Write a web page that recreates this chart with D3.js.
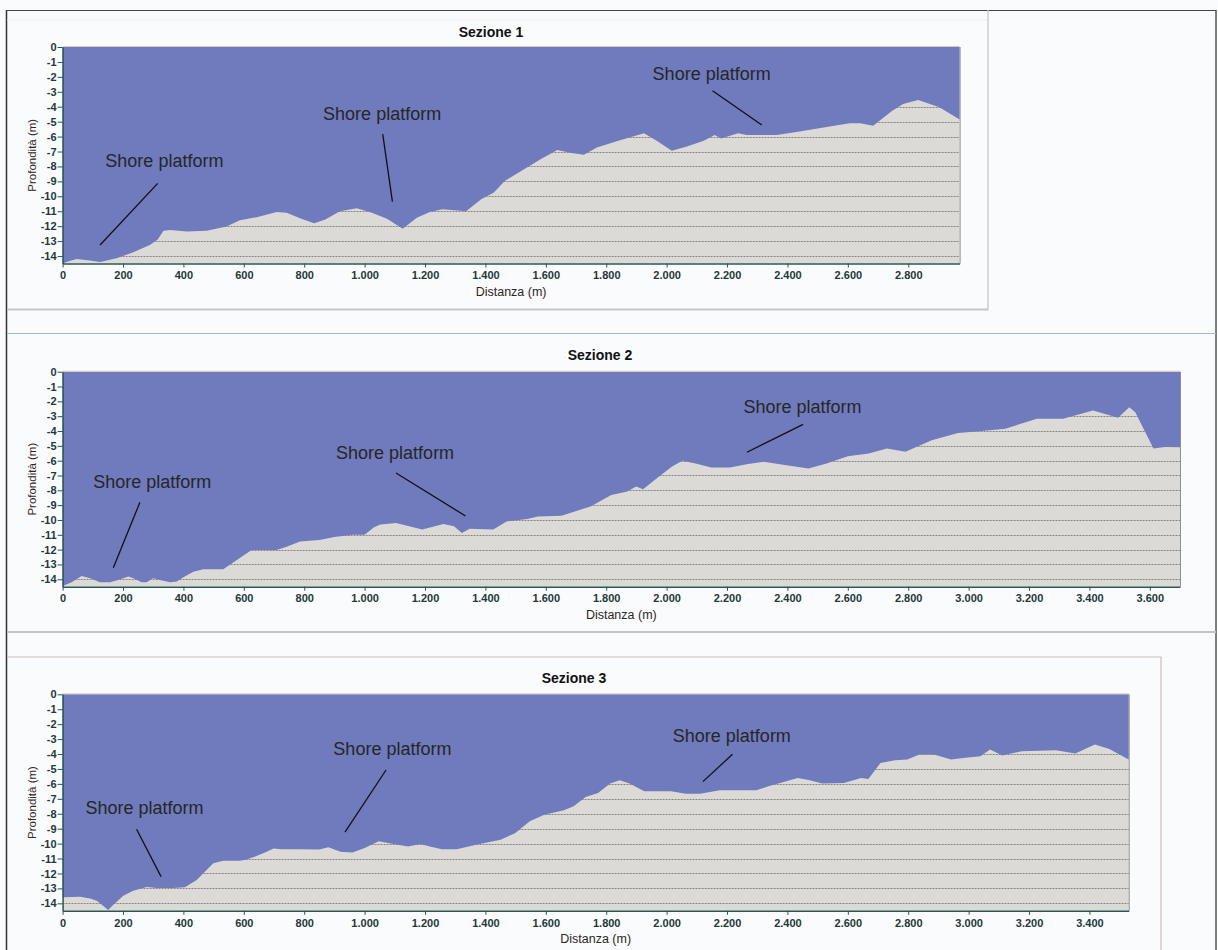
<!DOCTYPE html>
<html lang="it">
<head>
<meta charset="UTF-8"/>
<title>Sezioni 1-3 - Profondità</title>
<script src="https://d3js.org/d3.v7.min.js"></script>
<style>
  body { margin: 0; background: #fafbfd; }
  svg { display: block; font-family: "Liberation Sans", Arial, sans-serif; }
  .axis text { font-weight: bold; font-size: 11px; fill: #1f3838; }
  .axis path, .axis line { stroke: #2c5656; }
  .grid line { stroke: #8a847e; stroke-dasharray: 2,1; }
</style>
</head>
<body>
<div id="chart"></div>
<script>

// Sezione 1 : distanza (m) e profondità (m)
var dist1 = [0, 20, 47, 90, 124, 179, 234, 289, 315, 334, 356, 411, 477, 543, 587, 643, 709, 742, 790, 833,
  870, 918, 974, 1024, 1074, 1126, 1173, 1216, 1258, 1336, 1386, 1428, 1464, 1528, 1584, 1638, 1684, 1726, 1769, 1840,
  1925, 1967, 2017, 2067, 2123, 2159, 2180, 2237, 2265, 2364, 2435, 2520, 2606, 2641, 2684, 2747, 2783, 2833, 2903, 2970];
var depth1 = [-14.5, -14.35, -14.2, -14.3, -14.4, -14.15, -13.75, -13.26, -12.9, -12.3, -12.25, -12.35, -12.3, -12.03, -11.6, -11.4, -11.05, -11.1, -11.5, -11.8,
  -11.55, -11.0, -10.8, -11.1, -11.5, -12.17, -11.43, -11.05, -10.87, -11.0, -10.2, -9.75, -8.97, -8.18, -7.5, -6.89, -7.1, -7.22, -6.73, -6.28,
  -5.77, -6.28, -6.95, -6.66, -6.28, -5.9, -6.13, -5.77, -5.9, -5.9, -5.68, -5.39, -5.1, -5.1, -5.28, -4.27, -3.82, -3.55, -4.04, -4.85];

// Sezione 2
var dist2 = [0, 30, 63, 91, 124, 157, 184, 218, 234, 262, 278, 300, 322, 356, 378, 400, 433, 466, 532, 577,
  626, 709, 742, 786, 850, 900, 960, 1000, 1030, 1052, 1104, 1191, 1261, 1296, 1322, 1348, 1426, 1470, 1539, 1574,
  1652, 1748, 1817, 1870, 1899, 1922, 1974, 2017, 2052, 2096, 2148, 2209, 2270, 2322, 2391, 2470, 2530, 2600, 2669, 2730,
  2791, 2878, 2965, 3035, 3122, 3226, 3313, 3412, 3495, 3532, 3552, 3612, 3650, 3700];
var depth2 = [-14.45, -14.2, -13.77, -13.93, -14.2, -14.2, -14.05, -13.82, -13.93, -14.2, -14.2, -13.93, -14.05, -14.2, -14.15, -13.87, -13.49, -13.32, -13.32, -12.7,
  -12.03, -12.03, -11.8, -11.46, -11.35, -11.15, -11.0, -11.0, -10.5, -10.3, -10.2, -10.65, -10.27, -10.43, -10.88, -10.6, -10.65, -10.1, -9.94, -9.76,
  -9.71, -9.09, -8.31, -8.08, -7.75, -7.93, -7.08, -6.41, -6.0, -6.19, -6.46, -6.46, -6.23, -6.08, -6.3, -6.52, -6.19, -5.7, -5.52, -5.18,
  -5.4, -4.63, -4.13, -4.02, -3.84, -3.17, -3.17, -2.62, -3.1, -2.39, -2.73, -5.18, -5.07, -5.1];

// Sezione 3
var dist3 = [0, 58, 91, 113, 135, 151, 168, 201, 234, 278, 312, 366, 405, 444, 499, 532, 587, 609, 631, 676,
  698, 725, 786, 850, 880, 920, 960, 1000, 1047, 1095, 1144, 1184, 1216, 1256, 1305, 1369, 1450, 1498, 1547, 1595,
  1660, 1692, 1732, 1773, 1813, 1845, 1877, 1926, 2015, 2063, 2111, 2176, 2240, 2297, 2337, 2385, 2434, 2474, 2515, 2587,
  2644, 2668, 2708, 2756, 2797, 2837, 2885, 2942, 2982, 3039, 3071, 3111, 3176, 3289, 3353, 3418, 3466, 3530];
var depth3 = [-13.6, -13.56, -13.67, -13.82, -14.18, -14.45, -14.1, -13.5, -13.15, -12.9, -12.97, -12.97, -12.93, -12.44, -11.32, -11.15, -11.15, -11.06, -10.92, -10.54,
  -10.32, -10.38, -10.38, -10.4, -10.25, -10.55, -10.6, -10.3, -9.85, -10.03, -10.19, -10.03, -10.19, -10.37, -10.37, -10.08, -9.74, -9.3, -8.51, -8.06,
  -7.77, -7.5, -6.88, -6.61, -5.98, -5.76, -5.98, -6.5, -6.5, -6.66, -6.66, -6.43, -6.43, -6.43, -6.16, -5.89, -5.6, -5.76, -5.98, -5.94,
  -5.6, -5.67, -4.6, -4.42, -4.37, -4.04, -4.04, -4.37, -4.26, -4.15, -3.7, -4.1, -3.81, -3.75, -3.97, -3.37, -3.66, -4.37];

// tick values
var depthTicks = [0, -1, -2, -3, -4, -5, -6, -7, -8, -9, -10, -11, -12, -13, -14];
var distTicks = [0, 200, 400, 600, 800, 1000, 1200, 1400, 1600, 1800, 2000, 2200, 2400, 2600, 2800, 3000, 3200, 3400, 3600];

var titles = ["Sezione 1", "Sezione 2", "Sezione 3"];
var noteText = "Shore platform";

// annotations: [text dist, text depth, line start dist, depth, line end dist, depth]
var notes1 = [[337, -8.04, 315, -9.13, 124, -13.26],
              [1058, -4.89, 1060, -5.83, 1092, -10.36],
              [2149, -2.18, 2152, -2.93, 2315, -5.22]];
var notes2 = [[297, -7.84, 256, -8.81, 168, -13.22],
              [1101, -5.89, 1104, -6.83, 1334, -9.73],
              [2450, -2.81, 2452, -3.55, 2266, -5.43]];
var notes3 = [[271, -7.99, 245, -9.04, 326, -12.21],
              [1092, -4.06, 1071, -5.07, 935, -9.23],
              [2216, -3.2, 2218, -4.02, 2120, -5.85]];

var w = 1218, h = 950;

var svg = d3.select("#chart")
  .append("svg")
  .attr("width", w)
  .attr("height", h);

svg.append("rect").attr("width", w).attr("height", h).attr("fill", "#fafbfd");

// frames around the three panels
function frameLine(x1, y1, x2, y2, color, sw) {
  svg.append("line")
    .attr("x1", x1).attr("y1", y1).attr("x2", x2).attr("y2", y2)
    .attr("stroke", color).attr("stroke-width", sw);
}
frameLine(6.5, 10, 6.5, h, "#333", 1.5);
frameLine(6, 10.5, 1216, 10.5, "#444", 1.2);
frameLine(1216, 10, 1216, h, "#555", 1.5);
frameLine(7, 20, 988, 20, "#eeeeee", 1);
frameLine(988, 10, 988, 310, "#c4c4c4", 1.2);
frameLine(7, 309.5, 988, 309.5, "#c6c6c6", 2);
frameLine(7, 333.5, 1216, 333.5, "#9cb9c6", 1.2);
frameLine(7, 632, 1216, 632, "#c4c4c4", 2);
frameLine(7, 657, 1161, 657, "#c9c0b9", 1.2);
frameLine(1161, 657, 1161, h, "#c9bcb4", 1.2);

var panels = [
  { dist: dist1, depth: depth1, notes: notes1, title: titles[0], maxDist: 2970,
    left: 62.6, right: 959.6, top: 47, bottom: 263.5, titleX: 491, titleY: 37, xAxisColor: "#2c5656" },
  { dist: dist2, depth: depth2, notes: notes2, title: titles[1], maxDist: 3700,
    left: 62.6, right: 1180, top: 371.7, bottom: 586.7, titleX: 600, titleY: 360, xAxisColor: "#7a3528" },
  { dist: dist3, depth: depth3, notes: notes3, title: titles[2], maxDist: 3530,
    left: 62.6, right: 1128.7, top: 694.3, bottom: 910.8, titleX: 574, titleY: 683, xAxisColor: "#2c5656" }
];

var fmt = d3.formatLocale({ decimal: ",", thousands: ".", grouping: [3], currency: ["", ""] }).format(",d");

panels.forEach(function(p) {
  var xScale = d3.scaleLinear().domain([0, p.maxDist]).range([p.left, p.right]);
  var yScale = d3.scaleLinear().domain([0, -14.5]).range([p.top, p.bottom]);

  var g = svg.append("g");

  // ground background
  g.append("rect")
    .attr("x", p.left).attr("y", p.top)
    .attr("width", p.right - p.left).attr("height", p.bottom - p.top)
    .attr("fill", "#dcdad6");

  // dotted gridlines
  g.append("g").attr("class", "grid")
    .selectAll("line")
    .data(depthTicks.slice(1))
    .enter()
    .append("line")
    .attr("x1", p.left).attr("x2", p.right)
    .attr("y1", function(d) { return Math.round(yScale(d)) + 0.5; })
    .attr("y2", function(d) { return Math.round(yScale(d)) + 0.5; });

  // water area above the profile
  var pts = p.dist.map(function(d, i) { return [d, p.depth[i]]; });
  var area = d3.area()
    .x(function(d) { return xScale(d[0]); })
    .y0(yScale(0))
    .y1(function(d) { return yScale(d[1]); });
  g.append("path")
    .datum(pts)
    .attr("d", area)
    .attr("fill", "#6f7bbd");

  // plot border top / right
  g.append("line").attr("x1", p.left).attr("x2", p.right).attr("y1", p.top - 0.5).attr("y2", p.top - 0.5)
    .attr("stroke", "#d9c9bd").attr("stroke-width", 1);
  g.append("line").attr("x1", p.right + 0.5).attr("x2", p.right + 0.5).attr("y1", p.top).attr("y2", p.bottom)
    .attr("stroke", "#8a8f8f").attr("stroke-width", 1);

  // axes
  var yAxis = d3.axisLeft(yScale)
    .tickValues(depthTicks)
    .tickSize(5)
    .tickPadding(1)
    .tickSizeOuter(0)
    .tickFormat(function(d) { return d === 0 ? "0" : "-" + Math.abs(d); });
  g.append("g").attr("class", "axis")
    .attr("transform", "translate(" + p.left + ",0)")
    .call(yAxis)
    .call(function(s) { s.select(".domain").attr("stroke-width", 1.5); });

  var xAxis = d3.axisBottom(xScale)
    .tickValues(distTicks.filter(function(d) { return d <= p.maxDist; }))
    .tickSize(4)
    .tickPadding(4)
    .tickSizeOuter(0)
    .tickFormat(fmt);
  g.append("g").attr("class", "axis")
    .attr("transform", "translate(0," + p.bottom + ")")
    .call(xAxis)
    .call(function(s) { s.select(".domain").attr("stroke", p.xAxisColor).attr("stroke-width", 1.5); });

  // titles
  g.append("text")
    .attr("x", p.titleX).attr("y", p.titleY)
    .attr("text-anchor", "middle")
    .attr("font-size", "14px").attr("font-weight", "bold")
    .attr("fill", "#111")
    .text(p.title);

  g.append("text")
    .attr("x", (p.left + p.right) / 2).attr("y", p.bottom + 32)
    .attr("text-anchor", "middle")
    .attr("font-size", "12.5px")
    .attr("fill", "#2e2622")
    .text("Distanza (m)");

  g.append("text")
    .attr("transform", "translate(36," + (p.top + p.bottom) / 2 + ") rotate(-90)")
    .attr("text-anchor", "middle")
    .attr("font-size", "11.5px")
    .attr("fill", "#2e2622")
    .text("Profondità (m)");

  // annotations
  p.notes.forEach(function(n) {
    g.append("text")
      .attr("x", xScale(n[0])).attr("y", yScale(n[1]))
      .attr("text-anchor", "middle")
      .attr("font-size", "18px")
      .attr("fill", "#262626")
      .text(noteText);
    g.append("line")
      .attr("x1", xScale(n[2])).attr("y1", yScale(n[3]))
      .attr("x2", xScale(n[4])).attr("y2", yScale(n[5]))
      .attr("stroke", "#111").attr("stroke-width", 1.3);
  });
});

</script>
</body>
</html>
